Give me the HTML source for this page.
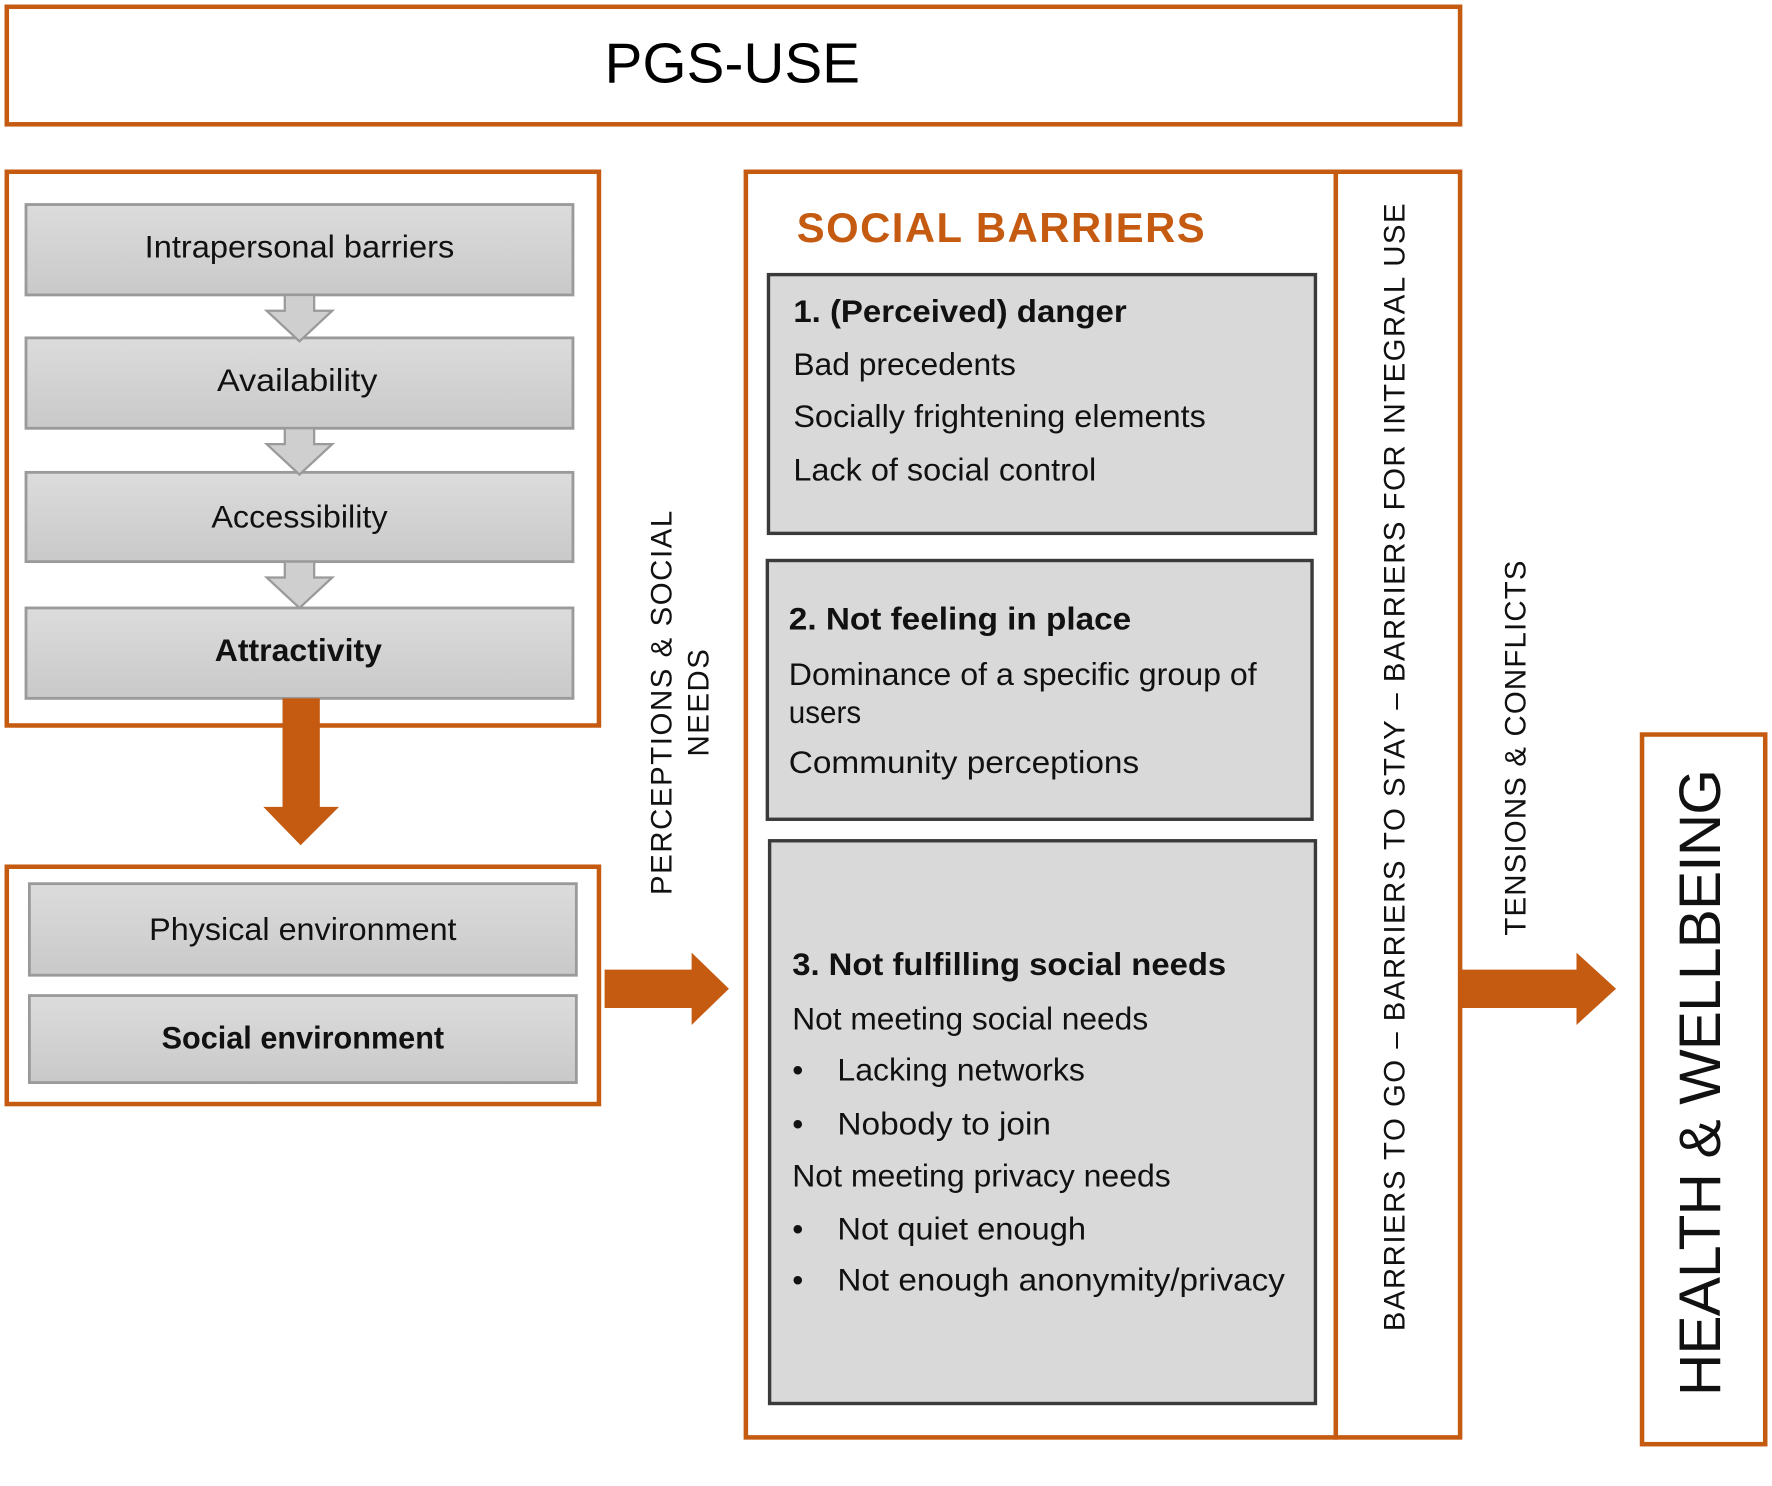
<!DOCTYPE html>
<html><head><meta charset="utf-8"><style>
html,body{margin:0;padding:0;background:#fff;}
svg{display:block;}
text{font-family:"Liberation Sans",sans-serif;}
</style></head><body>
<svg width="1772" height="1486" viewBox="0 0 1568 1315" preserveAspectRatio="none" xmlns="http://www.w3.org/2000/svg">
<defs>
<linearGradient id="g" x1="0" y1="0" x2="0" y2="1"><stop offset="0" stop-color="#dcdcdc"/><stop offset="1" stop-color="#c9c9c9"/></linearGradient>
</defs>
<g fill="none" stroke="#C55A11" stroke-width="4">
<rect x="6" y="6" width="1286" height="104"/>
<rect x="6" y="152" width="524" height="490"/>
<rect x="6" y="767" width="524" height="210"/>
<rect x="660" y="152" width="522" height="1120"/>
<rect x="1182" y="152" width="110" height="1120"/>
<rect x="1453" y="650" width="109" height="628"/>
</g>
<text x="648" y="73" font-size="50" text-anchor="middle" textLength="226">PGS-USE</text>
<g fill="url(#g)" stroke="#9a9a9a" stroke-width="2.5">
<rect x="23" y="181" width="484" height="80"/>
<rect x="23" y="299" width="484" height="80"/>
<rect x="23" y="418" width="484" height="79"/>
<rect x="23" y="538" width="484" height="80"/>
<rect x="26" y="782" width="484" height="81"/>
<rect x="26" y="881" width="484" height="77"/>
</g>
<g fill="#cfcfcf" stroke="#9a9a9a" stroke-width="2">
<polygon points="252,261 278,261 278,275 294,275 265,302 236,275 252,275"/>
<polygon points="252,379 278,379 278,393 294,393 265,420 236,393 252,393"/>
<polygon points="252,497 278,497 278,511 294,511 265,538 236,511 252,511"/>
</g>
<g font-size="28" text-anchor="middle" fill="#111" lengthAdjust="spacingAndGlyphs">
<text x="265" y="228" textLength="274" lengthAdjust="spacingAndGlyphs">Intrapersonal barriers</text>
<text x="263" y="346" textLength="142" lengthAdjust="spacingAndGlyphs">Availability</text>
<text x="265" y="467" textLength="156" lengthAdjust="spacingAndGlyphs">Accessibility</text>
<text x="264" y="585" font-weight="bold" textLength="148" lengthAdjust="spacingAndGlyphs">Attractivity</text>
<text x="268" y="832" textLength="272" lengthAdjust="spacingAndGlyphs">Physical environment</text>
<text x="268" y="928" font-weight="bold" textLength="250" lengthAdjust="spacingAndGlyphs">Social environment</text>
</g>
<g fill="#C55A11">
<polygon points="250,618 283,618 283,714 300,714 266,748 233,714 250,714"/>
<polygon points="535,858 612,858 612,843 645,875 612,907 612,892 535,892"/>
<polygon points="1292,858 1395,858 1395,843 1430,875 1395,907 1395,892 1292,892"/>
</g>
<g font-size="26" fill="#111" text-anchor="middle">
<text transform="translate(594,622) rotate(-90)" textLength="340">PERCEPTIONS &amp; SOCIAL</text>
<text transform="translate(627,622) rotate(-90)" textLength="95">NEEDS</text>
<text transform="translate(1243,679) rotate(-90)" textLength="998">BARRIERS TO GO – BARRIERS TO STAY – BARRIERS FOR INTEGRAL USE</text>
<text transform="translate(1350,662) rotate(-90)" textLength="332">TENSIONS &amp; CONFLICTS</text>
<text transform="translate(1522,958) rotate(-90)" font-size="52" textLength="555">HEALTH &amp; WELLBEING</text>
</g>
<text x="705" y="214" font-size="37" font-weight="bold" fill="#C55A11" textLength="361">SOCIAL BARRIERS</text>
<g fill="#d9d9d9" stroke="#3a3a3a" stroke-width="3">
<rect x="680" y="243" width="484" height="229"/>
<rect x="679" y="496" width="482" height="229"/>
<rect x="681" y="744" width="483" height="498"/>
</g>
<g font-size="28" fill="#111">
<text x="702" y="285" font-weight="bold" textLength="295" lengthAdjust="spacingAndGlyphs">1. (Perceived) danger</text>
<text x="702" y="332" textLength="197" lengthAdjust="spacingAndGlyphs">Bad precedents</text>
<text x="702" y="378" textLength="365" lengthAdjust="spacingAndGlyphs">Socially frightening elements</text>
<text x="702" y="425" textLength="268" lengthAdjust="spacingAndGlyphs">Lack of social control</text>
<text x="698" y="557" font-weight="bold" textLength="303" lengthAdjust="spacingAndGlyphs">2. Not feeling in place</text>
<text x="698" y="606" textLength="414" lengthAdjust="spacingAndGlyphs">Dominance of a specific group of</text>
<text x="698" y="640" textLength="64" lengthAdjust="spacingAndGlyphs">users</text>
<text x="698" y="684" textLength="310" lengthAdjust="spacingAndGlyphs">Community perceptions</text>
<text x="701" y="863" font-weight="bold" textLength="384" lengthAdjust="spacingAndGlyphs">3. Not fulfilling social needs</text>
<text x="701" y="911" textLength="315" lengthAdjust="spacingAndGlyphs">Not meeting social needs</text>
<text x="701" y="956">•</text><text x="741" y="956" textLength="219" lengthAdjust="spacingAndGlyphs">Lacking networks</text>
<text x="701" y="1004">•</text><text x="741" y="1004" textLength="189" lengthAdjust="spacingAndGlyphs">Nobody to join</text>
<text x="701" y="1050" textLength="335" lengthAdjust="spacingAndGlyphs">Not meeting privacy needs</text>
<text x="701" y="1097">•</text><text x="741" y="1097" textLength="220" lengthAdjust="spacingAndGlyphs">Not quiet enough</text>
<text x="701" y="1142">•</text><text x="741" y="1142" textLength="396" lengthAdjust="spacingAndGlyphs">Not enough anonymity/privacy</text>
</g>
</svg>
</body></html>
